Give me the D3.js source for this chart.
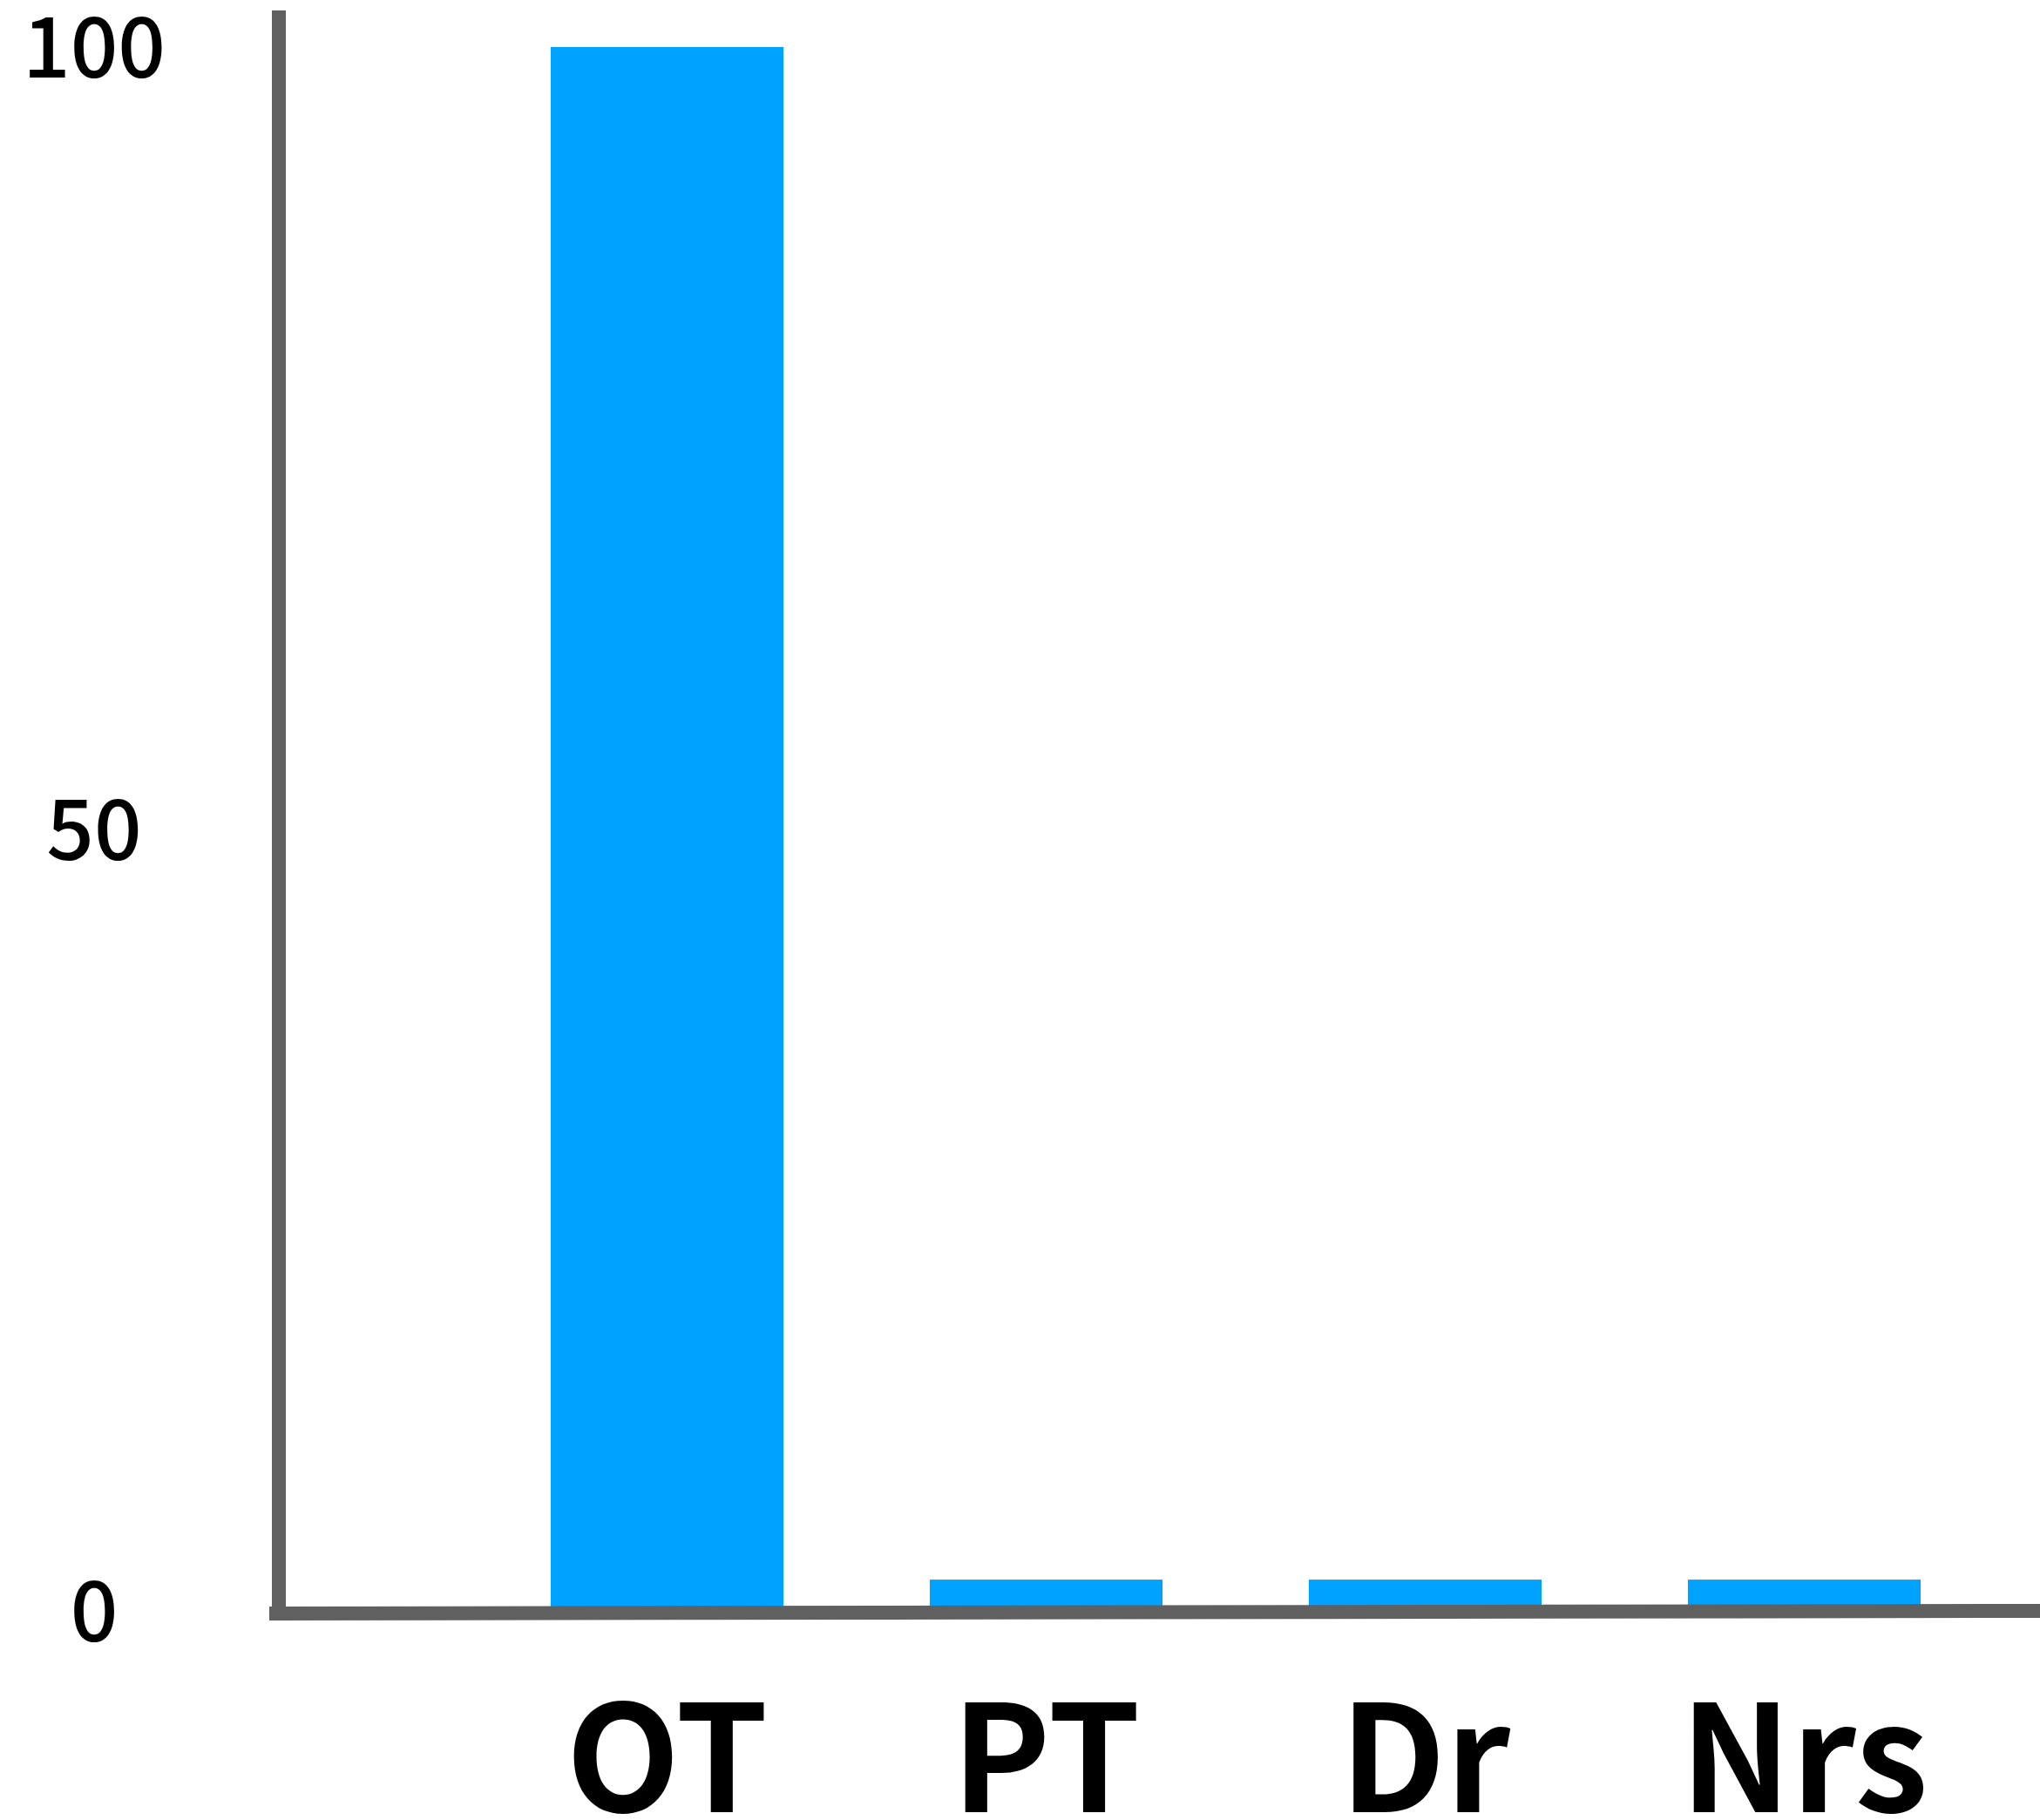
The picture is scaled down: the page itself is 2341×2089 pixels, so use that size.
<!DOCTYPE html>
<html>
<head>
<meta charset="utf-8">
<script src="https://cdn.jsdelivr.net/npm/d3@7"></script>
<style>
  html, body { margin: 0; padding: 0; background: #fff; }
  svg { display: block; }
</style>
</head>
<body>
<svg id="chart" width="2341" height="2089"></svg>
<script>
const categories = ["OT", "PT", "Dr", "Nrs"];
const values = [100, 2, 2, 2];
const yTicks = [0, 50, 100];

const svg = d3.select("#chart");
const W = 2341, H = 2089;

const x = d3.scaleBand()
  .domain(categories)
  .range([632, 2204])
  .paddingInner(0.386)
  .paddingOuter(0);

const y = d3.scaleLinear()
  .domain([0, 100])
  .range([1849, 54]);

const axisColor = "#606060";
const barColor = "#00a2ff";
const font = "'Noto Sans CJK JP', 'Noto Sans', sans-serif";

// bars
svg.append("g")
  .selectAll("rect")
  .data(values)
  .join("rect")
  .attr("x", (d, i) => x(categories[i]))
  .attr("width", x.bandwidth())
  .attr("y", d => y(d))
  .attr("height", d => y(0) - y(d))
  .attr("fill", barColor);

// y axis line
svg.append("line")
  .attr("x1", 320).attr("x2", 320)
  .attr("y1", 12).attr("y2", 1860)
  .attr("stroke", axisColor)
  .attr("stroke-width", 16);

// x axis line (slightly tilted as in reference)
svg.append("line")
  .attr("x1", 309).attr("y1", 1852)
  .attr("x2", W).attr("y2", 1849)
  .attr("stroke", axisColor)
  .attr("stroke-width", 16);

// y tick labels
const yAxis = svg.append("g")
  .attr("transform", "translate(108,0)")
  .call(d3.axisLeft(y).tickValues(yTicks).tickSize(0).tickPadding(0).tickFormat(d3.format("d")));
yAxis.select(".domain").remove();
yAxis.selectAll("text")
  .attr("text-anchor", "middle")
  .attr("x", 0)
  .attr("dy", "0.36em")
  .style("font-family", font)
  .style("font-weight", "500")
  .style("font-size", "96px")
  .style("fill", "#000");

// x category labels
const xAxis = svg.append("g")
  .attr("transform", "translate(0,2080)")
  .call(d3.axisBottom(x).tickSize(0).tickPadding(0));
xAxis.select(".domain").remove();
xAxis.selectAll("text")
  .attr("y", 0)
  .attr("dy", "0")
  .attr("text-anchor", "middle")
  .style("font-family", font)
  .style("font-weight", "bold")
  .style("font-size", "170px")
  .style("fill", "#000");
</script>
</body>
</html>
